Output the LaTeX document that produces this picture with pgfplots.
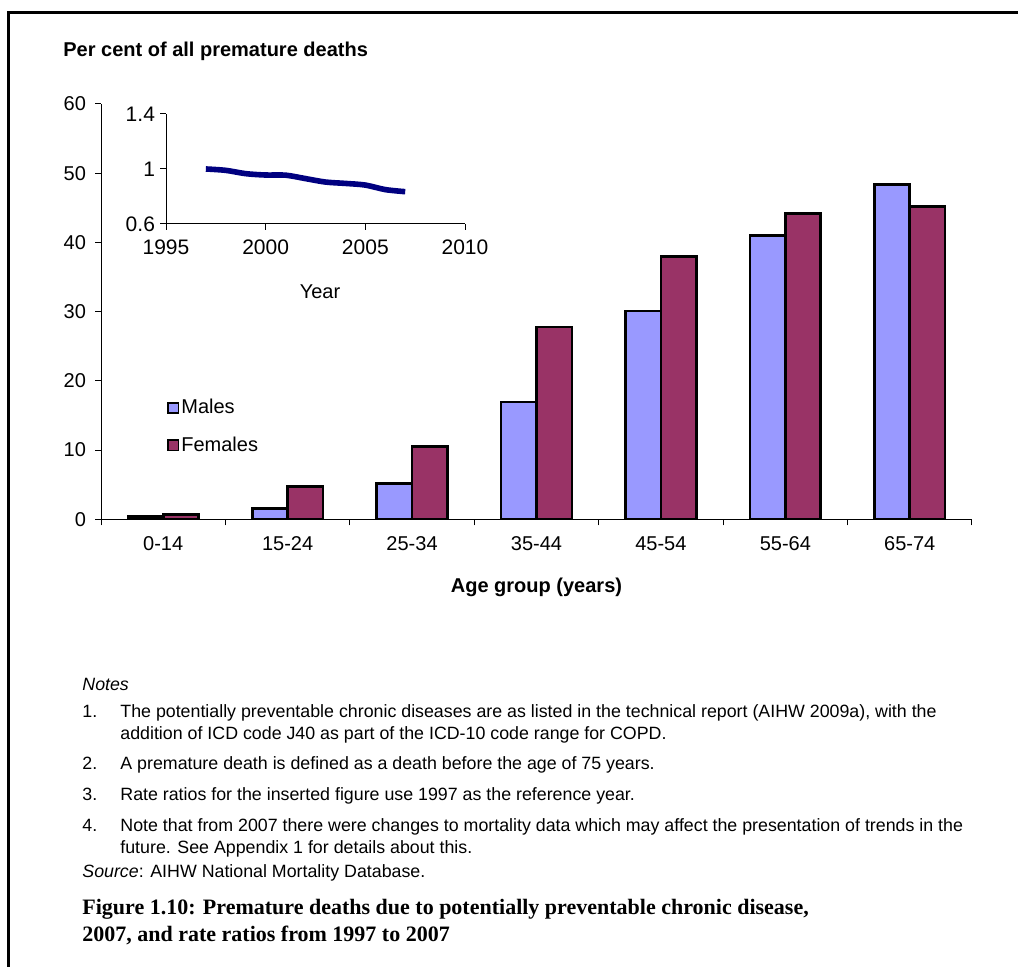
\documentclass[border=0pt]{standalone}
\usepackage{pgfplots}
\pgfplotsset{compat=1.18}
\usepackage{fontspec}
\setmainfont{Liberation Sans}
\newfontfamily\capfont{Liberation Serif}
\definecolor{males}{HTML}{9999FF}
\definecolor{females}{HTML}{993366}
\definecolor{navyline}{HTML}{000080}

\pgfplotstableread{
x males females
0 0.43 0.66
1 1.59 4.77
2 5.15 10.5
3 16.95 27.8
4 30.1 38.0
5 41.0 44.2
6 48.4 45.2
}\agedata

\pgfplotstableread{
year ratio
1997 1.000
1998 0.990
1999 0.966
2000 0.956
2001 0.955
2002 0.930
2003 0.905
2004 0.895
2005 0.883
2006 0.850
2007 0.835
}\ratiodata

\begin{document}
\begin{tikzpicture}
\useasboundingbox (0,0) rectangle (509pt,483.5pt);
\draw[line width=1.5pt, line join=miter] (4pt,0) -- (4pt,477pt) -- (509pt,477pt);

\node[anchor=base west, inner sep=0pt, font=\fontsize{10}{12}\selectfont\bfseries] at (31.5pt,455pt) {Per cent of all premature deaths};

\begin{axis}[
  at={(50.5pt,223.85pt)}, anchor=south west,
  scale only axis, width=435.5pt, height=207.65pt,
  xmin=-0.5, xmax=6.5, ymin=0, ymax=60,
  axis x line*=bottom, axis y line*=left,
  axis line style={-, line width=0.5pt, black},
  ytick={0,10,...,60},
  xtick={0,...,6},
  xticklabels={0-14,15-24,25-34,35-44,45-54,55-64,65-74},
  major x tick style={draw=none},
  minor xtick={-0.5,0.5,...,6.5},
  tick align=outside, major tick length=3pt, minor tick length=3pt,
  tick style={black, line width=0.5pt},
  ticklabel style={font=\fontsize{10}{12}\selectfont},
  /pgf/number format/assume math mode=true,
  y tick label style={xshift=-1pt},
  x tick label style={yshift=-2pt},
  xlabel={Age group (years)},
  xlabel style={font=\fontsize{10}{12}\selectfont\bfseries, at={(axis description cs:0.5,-0.164)}, anchor=center},
  legend image code/.code={\draw[#1, draw=black, line width=0.8pt] (0pt,-2.6pt) rectangle (5.2pt,2.6pt);},
  legend style={at={(axis cs:0.03,17.7)}, anchor=north west, draw=none, fill=none, inner sep=0pt,
    row sep=8pt, column sep=0pt, font=\fontsize{10}{12}\selectfont, nodes={inner sep=1pt}},
  legend cell align=left,
]
\addplot[ybar, bar width=0.284, bar shift=-0.142, fill=males, draw=black, line width=1.3pt] table[x=x, y=males] {\agedata};
\addplot[ybar, bar width=0.284, bar shift=0.142, fill=females, draw=black, line width=1.3pt] table[x=x, y=females] {\agedata};
\legend{Males,Females}
\end{axis}

\begin{axis}[
  at={(83pt,371.5pt)}, anchor=south west,
  scale only axis, width=149.5pt, height=55pt,
  xmin=1995, xmax=2010, ymin=0.6, ymax=1.4,
  xtick={1995,2000,2005,2010}, ytick={0.6,1,1.4}, yticklabels={0.6,1,1.4},
  axis x line*=bottom, axis y line*=left,
  axis line style={-, line width=0.5pt, black},
  tick align=outside, major tick length=3pt,
  tick style={black, line width=0.5pt},
  ticklabel style={font=\fontsize{10.5}{12}\selectfont},
  /pgf/number format/assume math mode=true,
  x tick label style={/pgf/number format/1000 sep={}, yshift=-1.5pt},
  y tick label style={xshift=1pt},
  xlabel={Year},
  xlabel style={font=\fontsize{10}{12}\selectfont, at={(axis description cs:0.515,-0.618)}, anchor=center},
]
\addplot[navyline, line width=2.8pt, smooth, no marks] table[x=year, y=ratio] {\ratiodata};
\end{axis}

\begin{scope}[every node/.style={anchor=base west, inner sep=0pt, font=\fontsize{8.9}{10}\selectfont}]
\node at (41pt,138pt) {\textit{Notes}};
\node at (41pt,124.5pt) {1.};
\node at (60pt,124.5pt) {The potentially preventable chronic diseases are as listed in the technical report (AIHW 2009a), with the};
\node at (60pt,113.5pt) {addition of ICD code J40 as part of the ICD-10 code range for COPD.};
\node at (41pt,98.5pt) {2.};
\node at (60pt,98.5pt) {A premature death is defined as a death before the age of 75 years.};
\node at (41pt,83pt) {3.};
\node at (60pt,83pt) {Rate ratios for the inserted figure use 1997 as the reference year.};
\node at (41pt,67.5pt) {4.};
\node at (60pt,67.5pt) {Note that from 2007 there were changes to mortality data which may affect the presentation of trends in the};
\node at (60pt,56.5pt) {future. See Appendix 1 for details about this.};
\node at (41pt,44.5pt) {\textit{Source}: AIHW National Mortality Database.};
\end{scope}
\begin{scope}[every node/.style={anchor=base west, inner sep=0pt, font=\capfont\fontsize{11}{13}\selectfont\bfseries}]
\node at (41pt,26pt) {Figure 1.10: Premature deaths due to potentially preventable chronic disease,};
\node at (41pt,12.5pt) {2007, and rate ratios from 1997 to 2007};
\end{scope}
\end{tikzpicture}
\end{document}
